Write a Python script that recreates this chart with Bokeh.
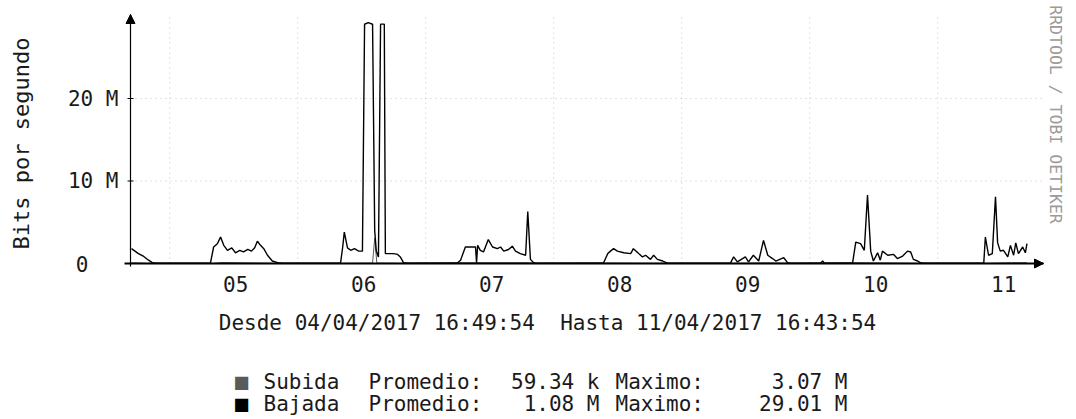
import math
from datetime import datetime, timezone
from bokeh.plotting import figure
from bokeh.models import Label, Arrow, NormalHead, Range1d
from bokeh.embed import file_html
from bokeh.resources import INLINE

# ---------------- data ----------------
start_text = "2017-04-04 16:49:54"
end_text = "2017-04-11 16:43:54"

# Bajada (download): hours since start / Mbit/s
bajada_hours = [0.0, 1.3, 2.3, 3.2, 3.9, 4.7, 14.8, 15.4, 16.1, 16.7, 17.3, 18.0, 18.8, 19.5,
                20.3, 21.0, 21.8, 22.5, 23.1, 23.6, 24.2, 24.8, 25.5, 26.4, 27.4, 28.3,
                39.2, 39.6, 39.9, 40.5, 41.1, 41.8, 42.6, 43.3, 43.7, 44.4, 45.2, 45.6,
                45.9, 46.3, 46.7, 47.4, 47.6, 49.1, 49.9, 50.4, 51.0, 51.9,
                61.1, 61.7, 62.6, 63.2, 64.5, 64.7, 64.9, 65.4, 66.0, 66.9, 67.7, 68.6,
                69.2, 69.8, 70.7, 71.4, 72.0, 72.9, 73.9, 74.3, 74.8, 75.4, 75.9,
                88.5, 89.3, 89.8, 90.4, 91.1, 92.3, 93.6, 94.1, 95.1, 95.8, 96.4, 97.3,
                97.9, 98.6, 99.6, 100.5,
                112.3, 112.9, 113.6, 115.1, 115.7, 116.6, 117.6, 118.5, 119.3, 120.2,
                120.8, 122.3, 123.0, 123.6, 129.2, 129.6, 129.9,
                135.2, 135.8, 136.7, 137.4, 138.0, 138.6, 139.1, 139.9, 140.4, 140.8,
                141.8, 142.9, 143.6, 144.6, 145.5, 146.1, 146.6, 147.4, 147.9, 148.5,
                159.8, 160.1, 160.7, 161.4, 162.0, 162.4, 162.9, 163.5, 164.3, 164.8,
                165.4, 165.8, 166.3, 167.1, 167.6, 167.9]
bajada_mbps = [1.8, 1.2, 0.85, 0.4, 0.1, 0.05, 0.05, 2.0, 2.4, 3.2, 2.2, 1.6, 1.9, 1.3,
               1.6, 1.4, 1.7, 1.5, 1.9, 2.7, 2.2, 1.8, 1.0, 0.3, 0.1, 0.05,
               0.05, 2.0, 3.8, 1.9, 1.6, 1.8, 1.5, 1.5, 29.0, 29.2, 29.0, 4.0,
               1.5, 0.8, 29.01, 29.01, 1.2, 1.2, 1.1, 0.8, 0.1, 0.05,
               0.05, 0.4, 2.0, 2.0, 2.0, 0.1, 2.2, 1.6, 1.4, 2.9, 2.0, 1.8,
               2.0, 1.5, 1.7, 2.1, 1.5, 1.2, 1.0, 6.3, 0.5, 0.1, 0.05,
               0.05, 1.2, 1.5, 1.8, 1.5, 1.3, 1.2, 1.8, 1.2, 0.8, 1.0, 0.5,
               1.0, 0.5, 0.3, 0.05,
               0.05, 0.8, 0.2, 0.8, 0.2, 1.0, 0.3, 2.8, 1.0, 0.6,
               0.3, 0.7, 0.1, 0.05, 0.05, 0.3, 0.05,
               0.05, 2.6, 2.4, 1.6, 8.3, 1.5, 0.3, 1.3, 0.4, 1.5,
               1.0, 1.1, 0.6, 0.9, 1.5, 1.4, 0.5, 0.3, 0.1, 0.05,
               0.05, 3.2, 1.0, 1.2, 8.1, 2.5, 1.5, 1.6, 0.8, 2.2,
               1.0, 2.5, 1.2, 2.0, 1.3, 2.4]

# Subida (upload): hours since start / Mbit/s
subida_hours = [0.0, 3.0, 15.4, 17.0, 27.0, 39.6, 45.2, 45.6, 46.0, 51.0, 62.0, 74.0,
                76.0, 89.0, 100.0, 113.0, 119.0, 124.0, 136.0, 148.0, 160.0, 165.0, 167.9]
subida_mbps = [0.08, 0.02, 0.02, 0.12, 0.02, 0.02, 0.05, 3.07, 0.05, 0.02, 0.1, 0.1,
               0.02, 0.06, 0.02, 0.02, 0.08, 0.02, 0.1, 0.02, 0.02, 0.1, 0.1]

day_labels = ["05", "06", "07", "08", "09", "10", "11"]
y_ticks = [0, 10e6, 20e6]
y_tick_labels = ["0", "10 M", "20 M"]

series_names = ["Subida", "Bajada"]
series_avg = ["59.34 k", "1.08 M"]
series_max = ["3.07 M", "29.01 M"]
series_colors = ["#5a5a5a", "#000000"]
y_title = "Bits por segundo"
credit = "RRDTOOL / TOBI OETIKER"
period = "Desde 04/04/2017 16:49:54 \u00a0Hasta 11/04/2017 16:43:54"

# --------------- helpers ---------------
HOUR = 3600e3
DAY = 24 * HOUR


def utc_ms(text):
    return datetime.strptime(text, "%Y-%m-%d %H:%M:%S").replace(tzinfo=timezone.utc).timestamp() * 1000.0


t0 = utc_ms(start_text)

bx = [t0 + h * HOUR for h in bajada_hours]
by = [v * 1e6 for v in bajada_mbps]
sx = [t0 + h * HOUR for h in subida_hours]
sy = [v * 1e6 for v in subida_mbps]

noons = [utc_ms("2017-04-%s 12:00:00" % d) for d in day_labels]
midnights = [utc_ms("2017-04-%s 00:00:00" % d) for d in day_labels]

# ---------------- layout (whole canvas is the frame) ----------------
W, H = 1076, 419
PX_DAY = 128.0          # pixels per day
PX_M = 8.25             # pixels per Mbit/s
X_T0 = 131              # pixel column of the start time
Y_ZERO = 263            # pixel row of value 0
AX_LEFT, AX_RIGHT, AX_TOP = 130, 1043, 14


def px_x(X):
    return t0 + (X - X_T0) / PX_DAY * DAY


def px_y(Y):
    return (Y_ZERO - Y) / PX_M * 1e6


FONT = "DejaVu Sans Mono"
TXT = "#1a1a1a"

p = figure(width=W, height=H, output_backend="svg", toolbar_location=None, tools="",
           x_range=Range1d(px_x(0), px_x(W)), y_range=Range1d(px_y(H), px_y(0)),
           min_border=0)
p.outline_line_color = None
p.background_fill_color = "white"
p.border_fill_color = "white"
p.xaxis.visible = False
p.yaxis.visible = False
p.xgrid.visible = False
p.ygrid.visible = False

x_left = px_x(AX_LEFT)
x_right = px_x(AX_RIGHT)
y_top = px_y(AX_TOP)

# grid (faint dotted)
p.segment(x0=midnights, y0=[0] * len(midnights), x1=midnights, y1=[y_top] * len(midnights),
          line_color="#c4c4c4", line_dash="1 4", line_width=1)
p.segment(x0=[x_left] * 2, y0=y_ticks[1:], x1=[x_right] * 2, y1=y_ticks[1:],
          line_color="#c4c4c4", line_dash="1 4", line_width=1)

# y ticks
p.segment(x0=[px_x(AX_LEFT - 3)] * 3, y0=y_ticks, x1=[px_x(AX_LEFT + 3)] * 3, y1=y_ticks,
          line_color="black", line_width=1)

# series
p.line(sx, sy, line_color=series_colors[0], line_width=1)
p.line(bx, by, line_color=series_colors[1], line_width=1.4)

# axes with arrows
p.segment(x0=[px_x(124)], y0=[0], x1=[x_right], y1=[0], line_color="black", line_width=1.8)
p.segment(x0=[x_left], y0=[px_y(266)], x1=[x_left], y1=[y_top], line_color="black", line_width=1.2)
p.add_layout(Arrow(end=NormalHead(size=9, fill_color="black", line_color="black"),
                   x_start=x_right - 0.05 * DAY, y_start=0, x_end=x_right, y_end=0,
                   line_color="black", line_width=1.6))
p.add_layout(Arrow(end=NormalHead(size=9, fill_color="black", line_color="black"),
                   x_start=x_left, y_start=px_y(AX_TOP + 10), x_end=x_left, y_end=y_top,
                   line_color="black"))


def lab(x, y, text, align="left", size="21px", color=TXT, angle=0.0,
        xunits="screen", yunits="screen", baseline="middle", x_offset=0):
    p.add_layout(Label(x=x, y=y, x_units=xunits, y_units=yunits, text=text,
                       text_font=FONT, text_font_size=size, text_color=color,
                       text_align=align, text_baseline=baseline, angle=angle,
                       x_offset=x_offset))


def sy_(Y):
    return H - Y


# x tick labels at noon
for n, d in zip(noons, day_labels):
    lab(n, sy_(283), d, align="center", xunits="data", x_offset=2)

# y tick labels
for v, t in zip(y_ticks, y_tick_labels):
    lab(88 if t == "0" else 118, v, t, align="right", yunits="data")

# y axis title
lab(21, sy_(143), y_title, align="center", size="22px", angle=math.pi / 2)

# credit on the right
lab(1055, sy_(114), credit, align="center", size="16.5px", color="#9a9a9a", angle=-math.pi / 2)

# period text
lab(547, sy_(322), period, align="center")

# legend
rows_Y = [381, 403]
for i in range(2):
    yy = sy_(rows_Y[i])
    lab(241, yy, "\u25a0", align="center", size="22px", color=series_colors[i])
    lab(263, yy, series_names[i])
    lab(368, yy, "Promedio:")
    lab(599, yy, series_avg[i], align="right")
    lab(615, yy, "Maximo:")
    lab(847, yy, series_max[i], align="right")

open("out.html", "w").write(file_html(p, INLINE))
